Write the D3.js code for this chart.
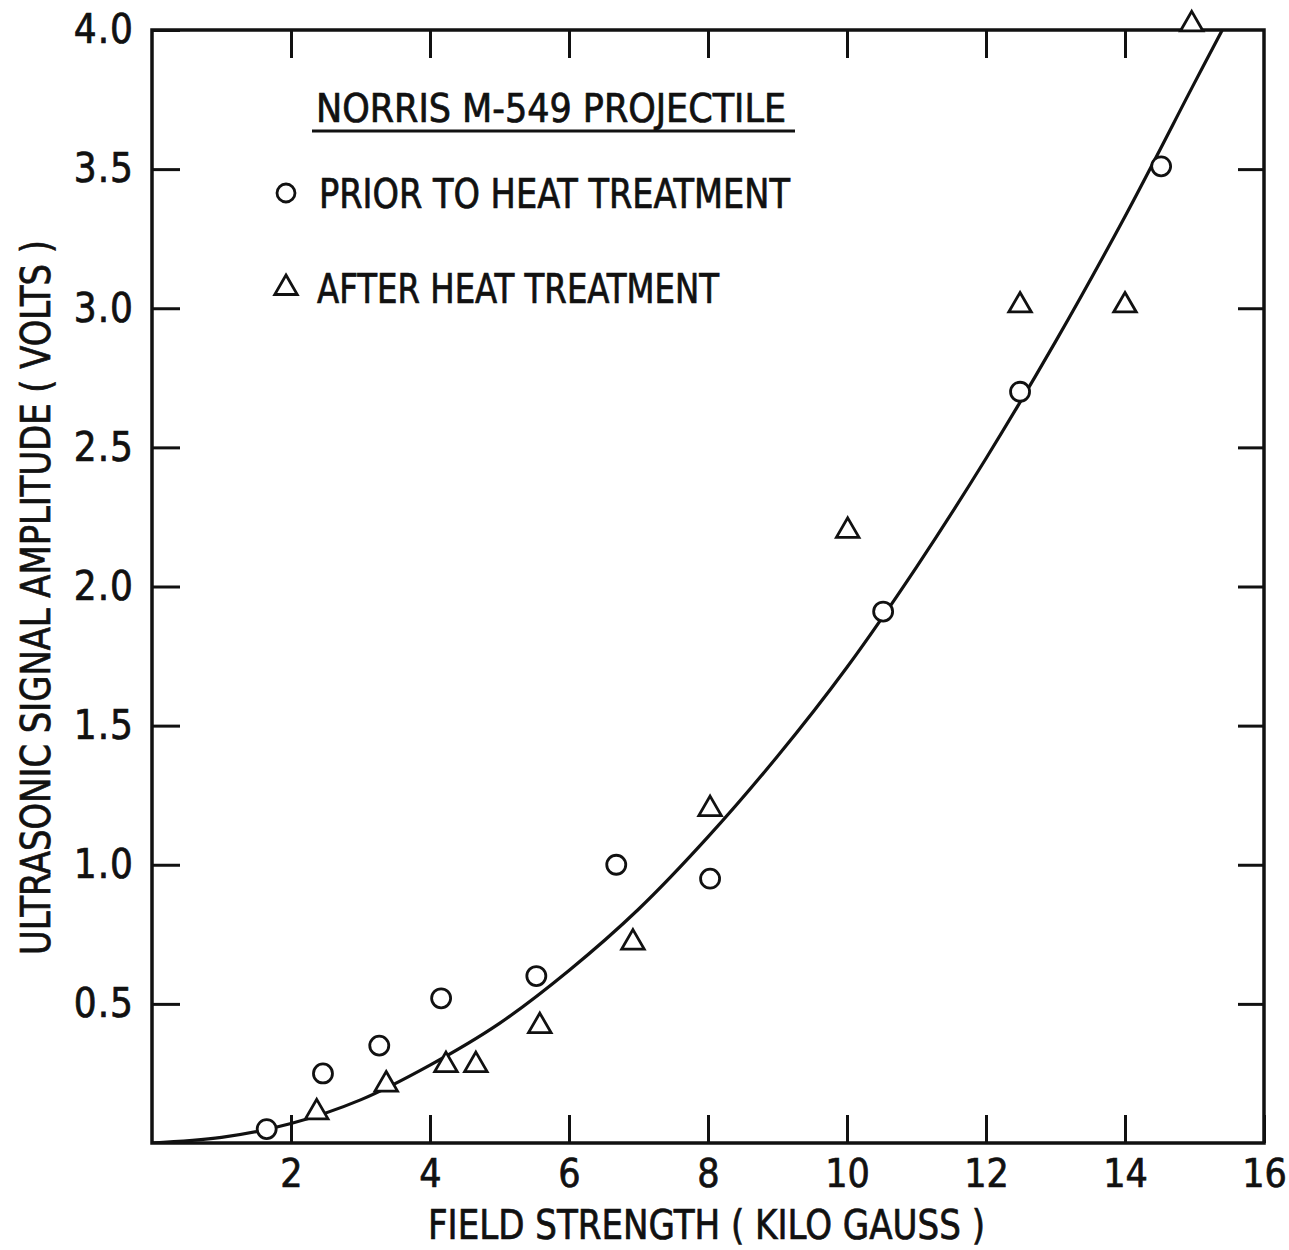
<!DOCTYPE html>
<html>
<head>
<meta charset="utf-8">
<script src="https://cdn.jsdelivr.net/npm/d3@7"></script>
<style>
  html, body { margin: 0; padding: 0; background: #fff; }
  svg { display: block; }
  text { font-family: "DejaVu Sans Condensed", "Liberation Sans Narrow", "DejaVu Sans", sans-serif; fill: #111; stroke: #111; stroke-width: 0.7px; }
</style>
</head>
<body>
<svg id="chart" width="1289" height="1250"></svg>
<script>
// Field strength (kilogauss) and signal amplitude (volts), prior to heat treatment
const priorX = [1.65, 2.46, 3.27, 4.16, 5.53, 6.68, 8.03, 10.52, 12.49, 14.52];
const priorY = [0.05, 0.25, 0.35, 0.52, 0.60, 1.00, 0.95, 1.91, 2.70, 3.51];

// After heat treatment
const afterX = [2.37, 3.37, 4.23, 4.66, 5.58, 6.92, 8.03, 10.01, 12.49, 14.0, 14.96];
const afterY = [0.11, 0.21, 0.28, 0.28, 0.42, 0.72, 1.20, 2.20, 3.01, 3.01, 4.02];

// Smooth trend curve through the data
const curveX = [0, 1, 2, 3, 4, 5, 6, 7, 8, 9, 10, 11, 12, 13, 14, 15, 15.4];
const curveY = [0, 0.02, 0.07, 0.155, 0.28, 0.43, 0.62, 0.84, 1.10, 1.39, 1.71, 2.07, 2.46, 2.88, 3.33, 3.81, 4.0];

// Axis ticks
const xTicks = [2, 4, 6, 8, 10, 12, 14, 16];
const yTicks = [0.5, 1.0, 1.5, 2.0, 2.5, 3.0, 3.5, 4.0];

const legendTitle = "NORRIS M-549 PROJECTILE";
const priorLabel = "PRIOR TO HEAT TREATMENT";
const afterLabel = "AFTER HEAT TREATMENT";
const xTitle = "FIELD STRENGTH ( KILO GAUSS )";
const yTitle = "ULTRASONIC SIGNAL AMPLITUDE ( VOLTS )";

const svg = d3.select("#chart");
const ink = "#111";

const plotL = 152, plotR = 1264, plotT = 30, plotB = 1143;
const x = d3.scaleLinear().domain([0, 16]).range([plotL, plotR]);
const y = d3.scaleLinear().domain([0, 4]).range([plotB, plotT]);

// Bottom axis: ticks point inward, labels below
const gx = svg.append("g").attr("transform", `translate(0,${plotB})`)
  .call(d3.axisBottom(x).tickValues(xTicks).tickSize(-28).tickPadding(16).tickFormat(d3.format("d")));
gx.select(".domain").remove();
gx.selectAll(".tick line").attr("stroke", ink).attr("stroke-width", 3);
gx.selectAll(".tick text").attr("font-size", 39).attr("fill", ink);

// Left axis
const gy = svg.append("g").attr("transform", `translate(${plotL},0)`)
  .call(d3.axisLeft(y).tickValues(yTicks).tickSize(-28).tickPadding(18).tickFormat(d3.format(".1f")));
gy.select(".domain").remove();
gy.selectAll(".tick line").attr("stroke", ink).attr("stroke-width", 3);
gy.selectAll(".tick text").attr("font-size", 40).attr("letter-spacing", 1).attr("fill", ink);
svg.selectAll("g").attr("font-family", null).attr("font-size", null);

// Top and right inner ticks
const gt = svg.append("g").attr("transform", `translate(0,${plotT})`)
  .call(d3.axisTop(x).tickValues(xTicks.slice(0, -1)).tickSize(-28).tickFormat(""));
gt.select(".domain").remove();
gt.selectAll(".tick line").attr("stroke", ink).attr("stroke-width", 3);

const gr = svg.append("g").attr("transform", `translate(${plotR},0)`)
  .call(d3.axisRight(y).tickValues(yTicks.slice(0, -1)).tickSize(-26).tickFormat(""));
gr.select(".domain").remove();
gr.selectAll(".tick line").attr("stroke", ink).attr("stroke-width", 3);

// Frame
svg.append("rect")
  .attr("x", plotL).attr("y", plotT)
  .attr("width", plotR - plotL).attr("height", plotB - plotT)
  .attr("fill", "none").attr("stroke", ink).attr("stroke-width", 3.5);

// Trend curve
svg.append("clipPath").attr("id", "plotClip")
  .append("rect").attr("x", plotL).attr("y", plotT - 2).attr("width", plotR - plotL).attr("height", plotB - plotT + 2);

const curvePts = curveX.map((v, i) => [v, curveY[i]]);
svg.append("path")
  .datum(curvePts)
  .attr("clip-path", "url(#plotClip)")
  .attr("fill", "none").attr("stroke", ink).attr("stroke-width", 3.2)
  .attr("d", d3.line().x(d => x(d[0])).y(d => y(d[1])).curve(d3.curveCatmullRom.alpha(0.5)));

// Markers
const priorPts = priorX.map((v, i) => [v, priorY[i]]);
svg.append("g").selectAll("circle").data(priorPts).join("circle")
  .attr("cx", d => x(d[0])).attr("cy", d => y(d[1])).attr("r", 9.5)
  .attr("fill", "#fff").attr("stroke", ink).attr("stroke-width", 2.8);

const afterPts = afterX.map((v, i) => [v, afterY[i]]);
const tri = d3.symbol().type(d3.symbolTriangle).size(220);
svg.append("g").selectAll("path").data(afterPts).join("path")
  .attr("transform", d => `translate(${x(d[0])},${y(d[1])})`)
  .attr("d", tri)
  .attr("fill", "#fff").attr("stroke", ink).attr("stroke-width", 2.8);

// Legend
const lg = svg.append("g");
lg.append("text").attr("x", 316).attr("y", 122).attr("font-size", 39)
  .attr("textLength", 470).attr("lengthAdjust", "spacingAndGlyphs").text(legendTitle);
lg.append("line").attr("x1", 312).attr("x2", 795).attr("y1", 131).attr("y2", 131)
  .attr("stroke", ink).attr("stroke-width", 3);

lg.append("circle").attr("cx", 286).attr("cy", 193).attr("r", 9)
  .attr("fill", "none").attr("stroke", ink).attr("stroke-width", 2.8);
lg.append("text").attr("x", 319).attr("y", 208).attr("font-size", 40)
  .attr("textLength", 471).attr("lengthAdjust", "spacingAndGlyphs").text(priorLabel);

lg.append("path").attr("transform", "translate(286,288)")
  .attr("d", d3.symbol().type(d3.symbolTriangle).size(220))
  .attr("fill", "none").attr("stroke", ink).attr("stroke-width", 2.8);
lg.append("text").attr("x", 317).attr("y", 303).attr("font-size", 40)
  .attr("textLength", 402).attr("lengthAdjust", "spacingAndGlyphs").text(afterLabel);

// Axis titles
svg.append("text").attr("x", 428).attr("y", 1239).attr("font-size", 41)
  .attr("textLength", 557).attr("lengthAdjust", "spacingAndGlyphs").text(xTitle);

svg.append("text").attr("transform", "translate(50,955) rotate(-90)")
  .attr("font-size", 41)
  .attr("textLength", 715).attr("lengthAdjust", "spacingAndGlyphs").text(yTitle);
</script>
</body>
</html>
